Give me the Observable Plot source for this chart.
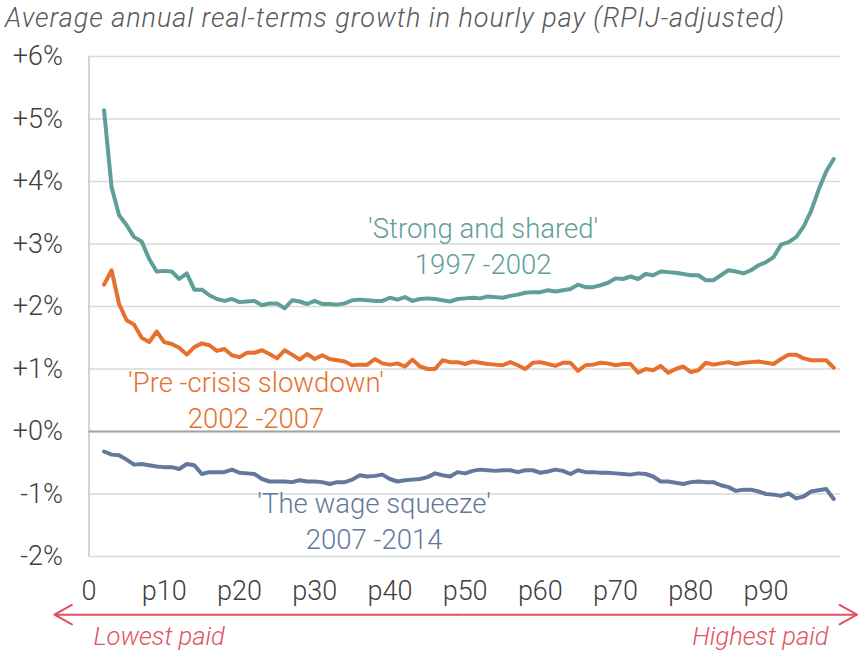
<!DOCTYPE html>
<html><head><meta charset="utf-8">
<script src="https://cdn.jsdelivr.net/npm/d3@7"></script>
<script src="https://cdn.jsdelivr.net/npm/@observablehq/plot@0.6"></script>
<style>
body{margin:0;background:#fff;}
#title{height:40px;font:italic 300 27px Roboto, sans-serif;letter-spacing:0.95px;color:#595959;padding-left:5px;line-height:36px;white-space:nowrap;}
</style></head><body>
<div id="title">Average annual real-terms growth in hourly pay (RPIJ-adjusted)</div>
<div id="chart"></div>
<script>
// Percentile of the hourly pay distribution
const percentiles = [2,3,4,5,6,7,8,9,10,11,12,13,14,15,16,17,18,19,20,21,22,23,24,25,26,27,28,29,30,31,32,33,34,35,36,37,38,39,40,41,42,43,44,45,46,47,48,49,50,51,52,53,54,55,56,57,58,59,60,61,62,63,64,65,66,67,68,69,70,71,72,73,74,75,76,77,78,79,80,81,82,83,84,85,86,87,88,89,90,91,92,93,94,95,96,97,98,99];

// 'Strong and shared' 1997-2002 (% per year)
const strongShared = [5.14,3.91,3.46,3.30,3.11,3.04,2.76,2.56,2.57,2.56,2.44,2.53,2.27,2.27,2.18,2.12,2.09,2.12,2.07,2.08,2.09,2.02,2.05,2.05,1.97,2.10,2.08,2.04,2.09,2.04,2.04,2.03,2.05,2.10,2.11,2.10,2.09,2.09,2.14,2.11,2.15,2.09,2.12,2.13,2.12,2.10,2.08,2.12,2.13,2.14,2.13,2.16,2.15,2.14,2.17,2.19,2.22,2.23,2.23,2.26,2.24,2.26,2.28,2.35,2.31,2.31,2.34,2.38,2.45,2.44,2.48,2.44,2.52,2.50,2.56,2.55,2.54,2.52,2.50,2.50,2.42,2.42,2.50,2.58,2.56,2.53,2.58,2.66,2.71,2.79,2.99,3.03,3.11,3.28,3.53,3.87,4.16,4.36];

// 'Pre-crisis slowdown' 2002-2007
const preCrisis = [2.35,2.58,2.04,1.78,1.71,1.50,1.43,1.60,1.43,1.40,1.34,1.23,1.35,1.41,1.38,1.29,1.32,1.22,1.19,1.26,1.26,1.30,1.24,1.17,1.30,1.23,1.15,1.24,1.16,1.22,1.16,1.14,1.12,1.06,1.07,1.07,1.16,1.09,1.07,1.09,1.04,1.15,1.04,1.00,1.00,1.14,1.11,1.11,1.08,1.12,1.10,1.08,1.07,1.06,1.11,1.06,1.00,1.10,1.11,1.08,1.05,1.10,1.10,0.97,1.06,1.07,1.10,1.09,1.06,1.08,1.08,0.94,1.00,0.98,1.05,0.94,1.00,1.04,0.95,0.98,1.10,1.07,1.09,1.11,1.08,1.10,1.11,1.12,1.10,1.08,1.16,1.23,1.23,1.17,1.14,1.14,1.14,1.02];

// 'The wage squeeze' 2007-2014
const wageSqueeze = [-0.32,-0.37,-0.38,-0.45,-0.53,-0.52,-0.54,-0.56,-0.57,-0.57,-0.60,-0.52,-0.54,-0.68,-0.65,-0.65,-0.65,-0.61,-0.66,-0.67,-0.68,-0.76,-0.80,-0.80,-0.80,-0.81,-0.78,-0.80,-0.80,-0.81,-0.84,-0.81,-0.81,-0.77,-0.70,-0.72,-0.71,-0.69,-0.76,-0.80,-0.78,-0.77,-0.76,-0.73,-0.67,-0.70,-0.72,-0.65,-0.67,-0.63,-0.61,-0.62,-0.63,-0.62,-0.62,-0.65,-0.62,-0.62,-0.66,-0.64,-0.61,-0.63,-0.68,-0.62,-0.65,-0.65,-0.66,-0.66,-0.67,-0.68,-0.69,-0.67,-0.68,-0.72,-0.80,-0.80,-0.82,-0.84,-0.81,-0.80,-0.81,-0.81,-0.86,-0.89,-0.95,-0.93,-0.93,-0.96,-1.00,-1.01,-1.03,-0.99,-1.07,-1.04,-0.96,-0.94,-0.92,-1.08];

const seriesNames = ["'Strong and shared'\n1997 -2002", "'Pre -crisis slowdown'\n2002 -2007", "'The wage squeeze'\n2007 -2014"];
const yTicks = [-2,-1,0,1,2,3,4,5,6];
const yTickLabels = ["-2%","-1%","+0%","+1%","+2%","+3%","+4%","+5%","+6%"];
const xTicks = [0,10,20,30,40,50,60,70,80,90];
const xTickLabels = ["0","p10","p20","p30","p40","p50","p60","p70","p80","p90"];
const endLabels = ["Lowest paid","Highest paid"];

// ---- presentation (not data) ----
const colors = ["#5f9e99","#e8702e","#63789d"];
const red = "#e0525f";
const labelPos = [{x:52.4, y:2.528},{x:22.2, y:0.064},{x:37.9, y:-1.872}];
const arrowY = -2.93, arrowMid = 49, arrowLeft = -4.6, arrowRight = 102.1;
const endLabelPos = [{x:0.6, y:-3.42, anchor:"start"},{x:98.3, y:-3.42, anchor:"end"}];

const allSeries = [strongShared, preCrisis, wageSqueeze];
const rows = allSeries.map(vals => vals.map((v,i) => ({p: percentiles[i], v})));

const plot = Plot.plot({
  width: 859, height: 614,
  marginTop: 16, marginBottom: 98, marginLeft: 88.5, marginRight: 19,
  x: {domain: [0, 99.9], label: null},
  y: {domain: [-2, 6], label: null},
  style: {fontFamily: "Roboto, sans-serif", fontWeight: 300, color: "#404040", background: "#fff"},
  marks: [
    Plot.gridY(yTicks, {stroke: "#d9d9d9", strokeOpacity: 1, strokeWidth: 1.5}),
    Plot.ruleX([0], {stroke: "#c6c6c6", strokeWidth: 1.5}),
    Plot.ruleY([0], {stroke: "#a3a3a3", strokeWidth: 2}),
    Plot.axisY(yTicks, {tickSize: 0, tickPadding: 26, fontSize: 27, label: null,
      tickFormat: d => yTickLabels[yTicks.indexOf(d)]}),
    Plot.axisX(xTicks, {tickSize: 0, tickPadding: 24, fontSize: 27, label: null,
      tickFormat: d => xTickLabels[xTicks.indexOf(d)]}),
    ...rows.map((r, i) => Plot.line(r, {x: "p", y: "v", stroke: colors[i], strokeWidth: 4, strokeLinejoin: "round", strokeLinecap: "round"})),
    ...seriesNames.map((t, i) => Plot.text([t], {x: labelPos[i].x, y: labelPos[i].y, text: d => d, fill: colors[i],
      fontSize: 27.5, lineAnchor: "bottom", lineHeight: 1.28, textAnchor: "middle"})),
    Plot.arrow([{x1: arrowMid, x2: arrowLeft}, {x1: arrowMid, x2: arrowRight}], {x1: "x1", x2: "x2", y1: arrowY, y2: arrowY,
      stroke: red, strokeWidth: 2, headLength: 15, headAngle: 58}),
    ...endLabels.map((t, i) => Plot.text([t], {x: endLabelPos[i].x, y: endLabelPos[i].y, text: d => d, fill: red,
      fontSize: 25.5, fontStyle: "italic", textAnchor: endLabelPos[i].anchor, lineAnchor: "bottom"}))
  ]
});
document.getElementById("chart").appendChild(plot);
</script>
</body></html>
